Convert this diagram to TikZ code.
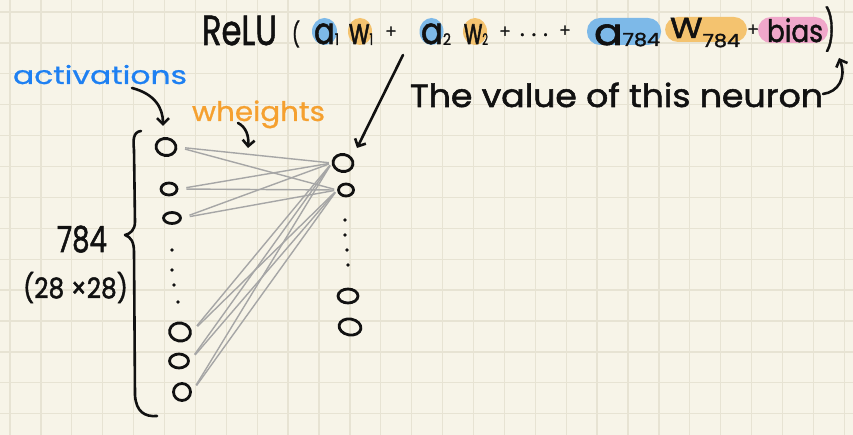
\documentclass[tikz,border=0pt]{standalone}
\usepackage{fontspec}
\usepackage{graphicx}
\setmainfont{Poppins}
\newfontfamily\inkfont{Poppins}[FakeBold=1.6]
\newfontfamily\penfont{Poppins}[FakeBold=0.8]
\usetikzlibrary{arrows.meta,shapes.geometric}
\definecolor{paper}{HTML}{F7F4E8}
\definecolor{gridc}{HTML}{E7E3D3}
\definecolor{hlblue}{HTML}{7DB9E8}
\definecolor{hlorange}{HTML}{F4C36F}
\definecolor{hlpink}{HTML}{F0A7CA}
\definecolor{actblue}{HTML}{1E80F2}
\definecolor{worange}{HTML}{F5A02F}
\definecolor{wgray}{HTML}{A6A6A6}
\definecolor{ink}{HTML}{111111}
\newcommand\myfs[1]{\fontsize{#1}{#1}\selectfont}
\newcommand\fitto[2]{\resizebox{#1pt}{\height}{#2}}
\newcommand\lowsub[3]{\raisebox{#1pt}{\myfs{#2}#3}}
\tikzset{
  gridline/.style={gridc, line width=1.3pt},
  hw/.style={inner sep=0pt, outer sep=0pt, anchor=base west, text=ink, font=\inkfont},
  lw/.style={inner sep=0pt, outer sep=0pt, anchor=base west, font=\penfont},
  plus/.style={inner sep=0pt, anchor=center, text=ink, font=\inkfont\myfs{17}},
  blob/.style={rounded corners=13pt},
  neuron/.style={draw=ink, ellipse, line width=2.8pt, inner sep=0pt},
  wline/.style={wgray, line width=1.4pt},
  inkline/.style={ink, line width=2.6pt, line cap=round, line join=round},
  harrow/.style={inkline, -{Straight Barb[length=6pt,width=12pt]}},
  dotmark/.style={fill=ink, circle, inner sep=0pt, minimum size=3.6pt}
}
\begin{document}
\begin{tikzpicture}[x=1pt,y=-1pt]
\useasboundingbox (0,0) rectangle (853,435);
\fill[paper] (0,0) rectangle (853,435);
\foreach \i in {0,...,27} \draw[gridline] ({10+30.9*\i},0) -- ({10+30.9*\i},435);
\foreach \j in {0,...,13} \draw[gridline] (0,{12+30.9*\j}) -- (853,{12+30.9*\j});

% highlight blobs
\fill[hlblue] (324.5,31.5) ellipse [x radius=12.5, y radius=13.5];
\fill[hlorange] (360,31.5) ellipse [x radius=12, y radius=13.5];
\fill[hlblue] (431.5,31.5) ellipse [x radius=12, y radius=13.5];
\fill[hlorange] (475,31.5) ellipse [x radius=12, y radius=13.5];
\fill[hlblue, blob] (587,18) rectangle (661,45);
\fill[hlorange, blob] (665,17) rectangle (747,42);
\fill[hlpink, blob] (758,17) rectangle (828,43);

% formula
\node[hw] (relu) at (202,45) {\fitto{75}{\myfs{42}ReLU}};
\node[hw] (lp) at (292,43) {\fitto{8}{\myfs{24}(}};
\node[hw] (a1) at (314,44) {\fitto{25}{\myfs{37}a\lowsub{-1}{16}{1}}};
\node[hw] (w1) at (349,44) {\fitto{24}{\myfs{36}w\lowsub{-1}{16}{1}}};
\node[plus] (p1) at (391,32) {+};
\node[hw] (a2) at (421,44) {\fitto{30}{\myfs{37}a\lowsub{-1}{16}{2}}};
\node[hw] (w2) at (464,44) {\fitto{24}{\myfs{36}w\lowsub{-1}{16}{2}}};
\node[plus] (p2) at (505,32) {+};
\node[hw] (dots) at (520,36) {\myfs{22}.\hspace{7pt}.\hspace{7pt}.};
\node[plus] (p3) at (565,31) {+};
\node[hw] (a784) at (594,45) {\fitto{66}{\myfs{37}a\lowsub{-1}{18}{784}}};
\node[hw] (w784) at (670,38) {\fitto{70}{\myfs{29}W\lowsub{-9}{18}{784}}};
\node[plus] (p4) at (753,30) {+};
\node[hw] (bias) at (767,42) {\fitto{56}{\myfs{31}bias}};
\node[hw] (rp) at (825,44) {\fitto{10}{\myfs{40})}};

% caption
\node[hw] (caption) at (410,107) {\fitto{413}{\myfs{32}The value of this neuron}};
\node[lw, text=actblue] (act) at (13,84) {\fitto{174}{\myfs{25}activations}};
\node[lw, text=worange] (wts) at (192,121) {\fitto{133}{\myfs{27}wheights}};
\node[hw] (n784) at (57,252) {\fitto{50}{\myfs{36}784}};
\node[hw] (dims) at (23,298) {\fitto{105}{\myfs{28}(28 ×28)}};

% neurons
\node[neuron, minimum width=20pt, minimum height=17pt, rotate=-10] (n1) at (166,147) {};
\node[neuron, minimum width=16pt, minimum height=12pt] (n2) at (169,189) {};
\node[neuron, minimum width=17pt, minimum height=11pt] (n3) at (172,218) {};
\node[neuron, minimum width=21pt, minimum height=18pt, rotate=-10] (n4) at (180,332) {};
\node[neuron, minimum width=19pt, minimum height=14pt] (n5) at (179,361) {};
\node[neuron, minimum width=17pt, minimum height=17pt] (n6) at (182,392) {};
\node[neuron, minimum width=20pt, minimum height=17pt, rotate=-10] (m1) at (343,163) {};
\node[neuron, minimum width=15pt, minimum height=12pt] (m2) at (346,190) {};
\node[neuron, minimum width=20pt, minimum height=14pt] (m3) at (348,296) {};
\node[neuron, minimum width=22pt, minimum height=16pt, rotate=-10] (m4) at (350,327) {};

% vertical dots
\node[dotmark] (ld1) at (172,250) {};
\node[dotmark] (ld2) at (172,270) {};
\node[dotmark] (ld3) at (174,285) {};
\node[dotmark] (ld4) at (178,302) {};
\node[dotmark] (rd1) at (345,220) {};
\node[dotmark] (rd2) at (345,235) {};
\node[dotmark] (rd3) at (347,250) {};
\node[dotmark] (rd4) at (348,265) {};

% weights
\foreach \n in {n1,n2,n3,n4,n5,n6}{
  \draw[wline, shorten <=8pt, shorten >=3pt] (\n.center -| \n.east) -- (m1.center -| m1.west);
  \draw[wline, shorten <=8pt, shorten >=3pt] (\n.center -| \n.east) -- (m2.center -| m2.west);
}

% brace
\draw[inkline] (141,131) .. controls (133,132) and (133,140) .. (134,150) -- (135,222)
  .. controls (135,230) and (130,234) .. (125,235)
  .. controls (131,237) and (134,242) .. (134,252) -- (135,395)
  .. controls (136,412) and (145,417) .. (157,416);

% arrows
\coordinate (actS) at (132,88);
\coordinate (actE) at (163,126);
\draw[harrow] (actS) .. controls (155,94) and (163,108) .. (actE);
\coordinate (wS) at (238,123);
\coordinate (wE) at (248,148);
\draw[harrow] (wS) .. controls (246,127) and (249,136) .. (wE);
\coordinate (fS) at (403,55);
\coordinate (fE) at (357,148);
\draw[harrow] (fS) -- (fE);
\coordinate (cS) at (823,94);
\coordinate (cE) at (839,58);
\draw[harrow] (cS) .. controls (838,92) and (847,78) .. (cE);
\end{tikzpicture}
\end{document}
